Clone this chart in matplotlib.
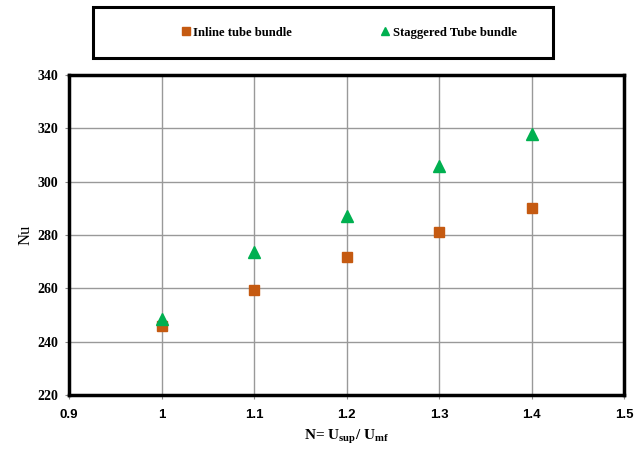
import matplotlib
matplotlib.use("Agg")
import matplotlib.pyplot as plt
from matplotlib.patches import Rectangle

# Velocity ratio N = U_sup / U_mf
n_ratio = [1.0, 1.1, 1.2, 1.3, 1.4]
# Nusselt number for each bundle arrangement
nu_inline = [246, 259.5, 271.8, 281.2, 290.1]
nu_staggered = [248.6, 273.6, 287.0, 305.7, 318.0]

x_ticks = [0.9, 1.0, 1.1, 1.2, 1.3, 1.4, 1.5]
x_tick_labels = ["0.9", "1", "1.1", "1.2", "1.3", "1.4", "1.5"]
y_ticks = [220, 240, 260, 280, 300, 320, 340]

serif = ["Liberation Serif", "DejaVu Serif"]
sans = ["Liberation Sans", "DejaVu Sans"]

plt.rcParams["mathtext.fontset"] = "custom"
plt.rcParams["mathtext.rm"] = "Liberation Serif"
plt.rcParams["mathtext.it"] = "Liberation Serif:italic"
plt.rcParams["mathtext.bf"] = "Liberation Serif:bold"

fig = plt.figure(figsize=(6.42, 4.5), dpi=100)
ax = fig.add_axes([0.1075, 0.1222, 0.8645, 0.7111])

ax.plot(n_ratio, nu_inline, linestyle="none", marker="s", markersize=7.5,
        color="#C55A11", label="Inline tube bundle", zorder=3)
ax.plot(n_ratio, nu_staggered, linestyle="none", marker="^", markersize=8.5,
        color="#00B050", label="Staggered Tube bundle", zorder=4)

ax.set_xlim(0.9, 1.5)
ax.set_ylim(220, 340)
ax.set_xticks(x_ticks)
ax.set_xticklabels(x_tick_labels, fontfamily=sans, fontweight="bold", fontsize=9.5)
ax.set_yticks(y_ticks)
ax.set_yticklabels([str(v) for v in y_ticks], fontfamily=serif, fontweight="bold", fontsize=10)
ax.tick_params(axis="both", direction="out", length=3, width=0.8, color="#888888")
ax.tick_params(axis="y", pad=4.5)
ax.tick_params(axis="x", pad=7)

ax.grid(True, color="#999999", linewidth=1.0)
ax.set_axisbelow(True)
for s in ax.spines.values():
    s.set_linewidth(2.5)
    s.set_color("black")

ax.set_ylabel("Nu", fontfamily=serif, fontsize=12, labelpad=3)
ax.set_xlabel(r"N= U$_{\mathbf{sup}}$/ U$_{\mathbf{mf}}$", fontfamily=serif,
              fontweight="bold", fontsize=11, labelpad=5)

# Boxed legend above the plot
fig.patches.append(Rectangle((0.145, 0.871), 0.716, 0.113, transform=fig.transFigure,
                             fill=False, edgecolor="black", linewidth=2.2))
fig.legend(loc="center", bbox_to_anchor=(0.542, 0.927), ncol=2, frameon=False,
           prop={"family": serif, "weight": "bold", "size": 9.1},
           handletextpad=0.1, columnspacing=6.87, handlelength=1.0, markerscale=0.7)

fig.savefig("out.png", dpi=100)
